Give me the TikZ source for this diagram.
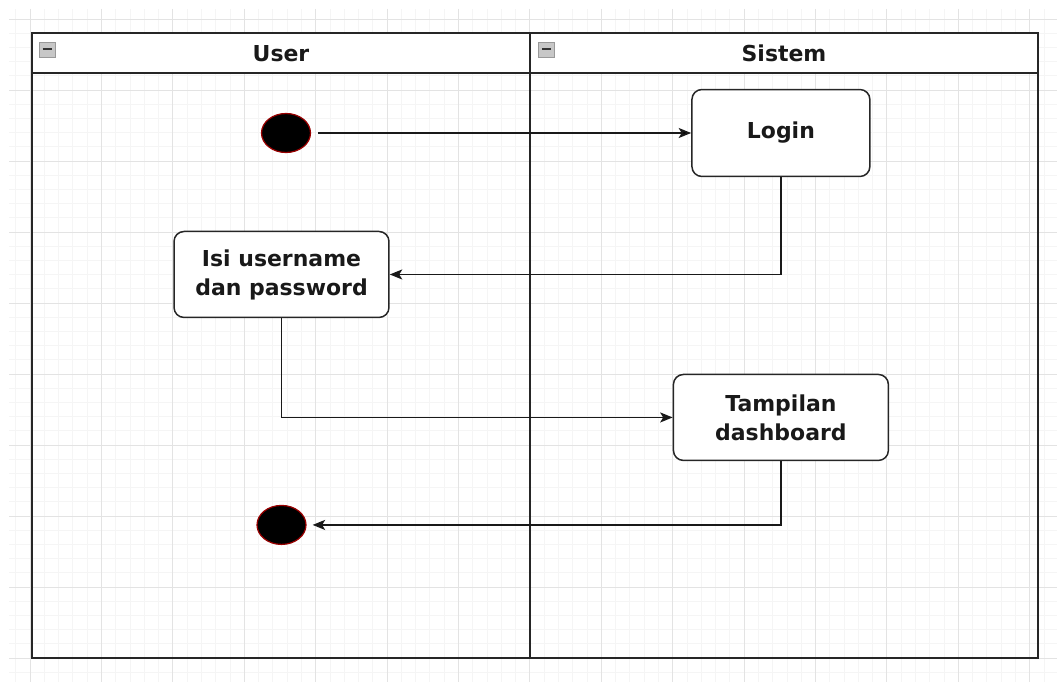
\documentclass[tikz,border=0pt]{standalone}
\usepackage{fontspec}
\setmainfont{DejaVu Sans}
\usetikzlibrary{arrows, arrows.meta, shapes, positioning}

\begin{document}
\begin{tikzpicture}[x=0.02cm,y=-0.02cm,>={Stealth[length=0.25cm,width=0.2cm,inset=0.06cm]},auto,
 minor line/.style={draw=black!4,line width=0.4pt},
 major line/.style={draw=black!11,line width=0.5pt},
 pool line/.style={draw=black!85,line width=0.04cm},
 lane title/.style={anchor=base,font=\fontsize{12.5}{15}\selectfont\bfseries,text=black!90},
 act node/.style={rectangle,rounded corners=0.2cm,draw=black!85,fill=white,
   line width=0.03cm,minimum width=4.3cm,minimum height=1.72cm,align=center,
   text=black!90,font=\fontsize{12.5}{16.5}\selectfont\bfseries},
 dot node/.style={ellipse,draw=red!60!black,fill=black,line width=0.7pt,
   minimum width=0.98cm,minimum height=0.78cm,inner sep=0pt},
 flow/.style={->,draw=black!90,line width=0.035cm}]

  \useasboundingbox (0,0) rectangle (1057,682);

  % background grid
  \foreach \i in {-1,...,71}
    \draw[minor line] ({30+14.28*\i},9) -- ({30+14.28*\i},682);
  \foreach \i in {0,...,46}
    \draw[minor line] (9,{19+14.2*\i}) -- (1057,{19+14.2*\i});
  \foreach \i in {0,...,14}
    \draw[major line] ({30+71.4*\i},9) -- ({30+71.4*\i},682);
  \foreach \i in {0,...,9}
    \draw[major line] (9,{19+71*\i}) -- (1057,{19+71*\i});

  % swimlanes
  \fill[white] (32,33) rectangle (1038,73);
  \draw[pool line] (32,33) rectangle (1038,658);
  \draw[pool line] (32,73) -- (1038,73);
  \draw[pool line] (530,33) -- (530,658);
  \node[lane title] (user) at (281,62) {User};
  \node[lane title] (sistem) at (784,62) {Sistem};
  \foreach \x in {47,546.5} {
    \filldraw[fill=black!22,draw=black!40,line width=0.4pt] (\x-8,42) rectangle (\x+8,57);
    \draw[black!80,line width=0.04cm] (\x-4.5,49.5) -- (\x+4.5,49.5);}

  \node[dot node] (start) at (286,133) {};
  \node[act node,minimum width=3.56cm,minimum height=1.74cm] (login) [right of=start, node distance=9.9cm] {Login};
  \node[act node] (isi) [below of=start, node distance=2.83cm, xshift=-0.09cm] {Isi username\\dan password};
  \node[act node] (tampil) [below of=login, node distance=5.69cm] {Tampilan\\dashboard};
  \node[dot node] (end) [below of=isi, node distance=5.01cm] {};

  \path[flow,shorten <=0.14cm] (start) edge (login);
  \draw[flow] (login) |- (isi);
  \draw[flow] (isi) |- (tampil);
  \draw[flow,shorten >=0.12cm] (tampil) |- (end);

\end{tikzpicture}
\end{document}
